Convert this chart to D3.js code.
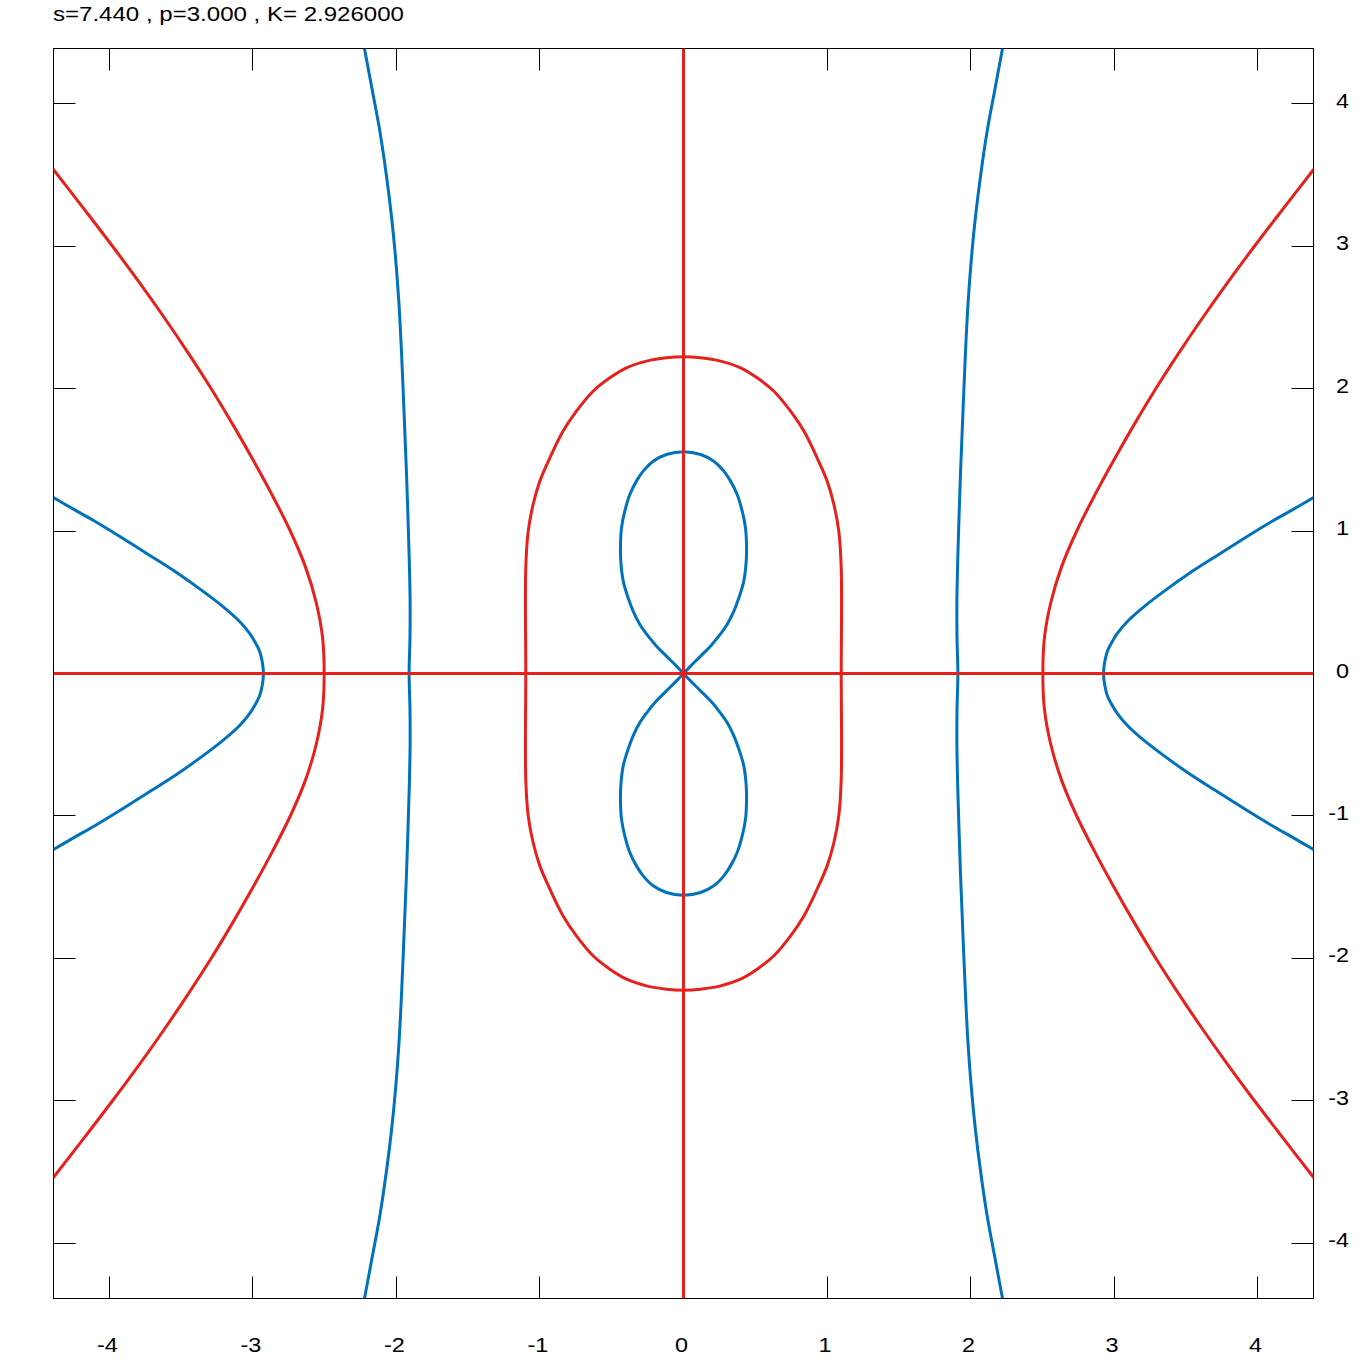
<!DOCTYPE html>
<html><head><meta charset="utf-8">
<script src="https://cdn.jsdelivr.net/npm/d3@7"></script>
<style>body{margin:0;background:#fff}svg{display:block}</style>
</head><body>
<svg id="chart" width="1366" height="1366"></svg>
<script>
const titleText = "s=7.440 , p=3.000 , K= 2.926000";
const xTicks = [-4, -3, -2, -1, 0, 1, 2, 3, 4];
const yTicks = [-4, -3, -2, -1, 0, 1, 2, 3, 4];
const xDomain = [-4.39, 4.39];
const yDomain = [-4.386, 4.386];

// ---- red level set ----
const redAxisX = [[-4.39, 0], [4.39, 0]];
const redAxisY = [[0, -4.386], [0, 4.386]];
const redOval = [[0,2.222],[0.119,2.215],[0.258,2.192],[0.397,2.145],[0.513,2.075],[0.630,1.981],[0.746,1.841],[0.839,1.701],[0.931,1.513],[1.001,1.350],[1.048,1.186],[1.082,0.999],[1.099,0.742],[1.099,0],[1.099,-0.742],[1.082,-0.999],[1.048,-1.186],[1.001,-1.350],[0.931,-1.513],[0.839,-1.701],[0.746,-1.841],[0.630,-1.981],[0.513,-2.075],[0.397,-2.145],[0.258,-2.192],[0.119,-2.215],[0,-2.222],[-0.119,-2.215],[-0.258,-2.192],[-0.397,-2.145],[-0.513,-2.075],[-0.630,-1.981],[-0.746,-1.841],[-0.839,-1.701],[-0.931,-1.513],[-1.001,-1.350],[-1.048,-1.186],[-1.082,-0.999],[-1.099,-0.742],[-1.099,0],[-1.099,0.742],[-1.082,0.999],[-1.048,1.186],[-1.001,1.350],[-0.931,1.513],[-0.839,1.701],[-0.746,1.841],[-0.630,1.981],[-0.513,2.075],[-0.397,2.145],[-0.258,2.192],[-0.119,2.215]];
const redLeft = [[-4.395,3.542],[-4.170,3.250],[-3.980,3.000],[-3.796,2.750],[-3.620,2.500],[-3.452,2.250],[-3.292,2.000],[-3.142,1.750],[-3.000,1.500],[-2.865,1.250],[-2.740,1.000],[-2.635,0.750],[-2.560,0.500],[-2.515,0.250],[-2.504,0],[-2.515,-0.250],[-2.560,-0.500],[-2.635,-0.750],[-2.740,-1.000],[-2.865,-1.250],[-3.000,-1.500],[-3.142,-1.750],[-3.292,-2.000],[-3.452,-2.250],[-3.620,-2.500],[-3.796,-2.750],[-3.980,-3.000],[-4.170,-3.250],[-4.395,-3.542]];
const redRight = [[4.395,3.542],[4.170,3.250],[3.980,3.000],[3.796,2.750],[3.620,2.500],[3.452,2.250],[3.292,2.000],[3.142,1.750],[3.000,1.500],[2.865,1.250],[2.740,1.000],[2.635,0.750],[2.560,0.500],[2.515,0.250],[2.504,0],[2.515,-0.250],[2.560,-0.500],[2.635,-0.750],[2.740,-1.000],[2.865,-1.250],[3.000,-1.500],[3.142,-1.750],[3.292,-2.000],[3.452,-2.250],[3.620,-2.500],[3.796,-2.750],[3.980,-3.000],[4.170,-3.250],[4.395,-3.542]];

// ---- blue level set ----
const blueEight = [[0,0],[0.049,0.052],[0.119,0.122],[0.188,0.192],[0.246,0.262],[0.304,0.344],[0.351,0.437],[0.386,0.531],[0.420,0.648],[0.437,0.788],[0.439,0.905],[0.432,1.022],[0.409,1.139],[0.374,1.256],[0.328,1.350],[0.281,1.420],[0.211,1.490],[0.119,1.537],[0,1.556],[-0.119,1.537],[-0.211,1.490],[-0.281,1.420],[-0.328,1.350],[-0.374,1.256],[-0.409,1.139],[-0.432,1.022],[-0.439,0.905],[-0.437,0.788],[-0.420,0.648],[-0.386,0.531],[-0.351,0.437],[-0.304,0.344],[-0.246,0.262],[-0.188,0.192],[-0.119,0.122],[-0.049,0.052],[0,0],[0.049,-0.052],[0.119,-0.122],[0.188,-0.192],[0.246,-0.262],[0.304,-0.344],[0.351,-0.437],[0.386,-0.531],[0.420,-0.648],[0.437,-0.788],[0.439,-0.905],[0.432,-1.022],[0.409,-1.139],[0.374,-1.256],[0.328,-1.350],[0.281,-1.420],[0.211,-1.490],[0.119,-1.537],[0,-1.556],[-0.119,-1.537],[-0.211,-1.490],[-0.281,-1.420],[-0.328,-1.350],[-0.374,-1.256],[-0.409,-1.139],[-0.432,-1.022],[-0.439,-0.905],[-0.437,-0.788],[-0.420,-0.648],[-0.386,-0.531],[-0.351,-0.437],[-0.304,-0.344],[-0.246,-0.262],[-0.188,-0.192],[-0.119,-0.122],[-0.049,-0.052],[0,0]];
const blueLeftWall = [[-2.223,4.386],[-2.170,4.100],[-2.115,3.800],[-2.071,3.500],[-2.034,3.200],[-2.005,2.900],[-1.983,2.600],[-1.967,2.300],[-1.954,2.000],[-1.942,1.700],[-1.930,1.400],[-1.920,1.100],[-1.911,0.800],[-1.905,0.500],[-1.906,0.250],[-1.912,0],[-1.906,-0.250],[-1.905,-0.500],[-1.911,-0.800],[-1.920,-1.100],[-1.930,-1.400],[-1.942,-1.700],[-1.954,-2.000],[-1.967,-2.300],[-1.983,-2.600],[-2.005,-2.900],[-2.034,-3.200],[-2.071,-3.500],[-2.115,-3.800],[-2.170,-4.100],[-2.223,-4.386]];
const blueRightWall = [[2.223,4.386],[2.170,4.100],[2.115,3.800],[2.071,3.500],[2.034,3.200],[2.005,2.900],[1.983,2.600],[1.967,2.300],[1.954,2.000],[1.942,1.700],[1.930,1.400],[1.920,1.100],[1.911,0.800],[1.905,0.500],[1.906,0.250],[1.912,0],[1.906,-0.250],[1.905,-0.500],[1.911,-0.800],[1.920,-1.100],[1.930,-1.400],[1.942,-1.700],[1.954,-2.000],[1.967,-2.300],[1.983,-2.600],[2.005,-2.900],[2.034,-3.200],[2.071,-3.500],[2.115,-3.800],[2.170,-4.100],[2.223,-4.386]];
const blueLeftArc = [[-4.390,1.235],[-4.245,1.150],[-4.105,1.070],[-3.925,0.960],[-3.705,0.820],[-3.520,0.700],[-3.352,0.580],[-3.222,0.480],[-3.098,0.370],[-3.022,0.280],[-2.985,0.220],[-2.955,0.160],[-2.935,0.080],[-2.927,0],[-2.935,-0.080],[-2.955,-0.160],[-2.985,-0.220],[-3.022,-0.280],[-3.098,-0.370],[-3.222,-0.480],[-3.352,-0.580],[-3.520,-0.700],[-3.705,-0.820],[-3.925,-0.960],[-4.105,-1.070],[-4.245,-1.150],[-4.390,-1.235]];
const blueRightArc = [[4.390,1.235],[4.245,1.150],[4.105,1.070],[3.925,0.960],[3.705,0.820],[3.520,0.700],[3.352,0.580],[3.222,0.480],[3.098,0.370],[3.022,0.280],[2.985,0.220],[2.955,0.160],[2.935,0.080],[2.927,0],[2.935,-0.080],[2.955,-0.160],[2.985,-0.220],[3.022,-0.280],[3.098,-0.370],[3.222,-0.480],[3.352,-0.580],[3.520,-0.700],[3.705,-0.820],[3.925,-0.960],[4.105,-1.070],[4.245,-1.150],[4.390,-1.235]];

const blueCurves = [blueLeftWall, blueRightWall, blueLeftArc, blueRightArc, blueEight];
const redCurves = [redLeft, redRight];
const redLines = [redAxisX, redAxisY];

const BLUE = "#0072bd", RED = "#e6211b";
const FONT = "'Liberation Sans', Arial, Helvetica, sans-serif";
const STRETCH = 1.17;

const svg = d3.select("#chart");
const L = 53.5, R = 1313.5, T = 48.5, B = 1298.5;
const x = d3.scaleLinear().domain(xDomain).range([L, R]);
const y = d3.scaleLinear().domain(yDomain).range([B, T]);

svg.append("defs").append("clipPath").attr("id", "plotclip")
  .append("rect").attr("x", L).attr("y", T).attr("width", R - L).attr("height", B - T);

// frame and ticks (drawn first, curves lie over them)
const ax = svg.append("g").attr("stroke", "#000").attr("stroke-width", 1).attr("fill", "none");
ax.append("rect").attr("x", L).attr("y", T).attr("width", R - L).attr("height", B - T);
const TL = 22;
const px = v => Math.round(x(v) - 0.5) + 0.5;
const py = v => Math.round(y(v) - 0.5) + 0.5;
xTicks.forEach(v => {
  ax.append("line").attr("x1", px(v)).attr("x2", px(v)).attr("y1", B).attr("y2", B - TL);
  ax.append("line").attr("x1", px(v)).attr("x2", px(v)).attr("y1", T).attr("y2", T + TL);
});
yTicks.forEach(v => {
  ax.append("line").attr("y1", py(v)).attr("y2", py(v)).attr("x1", L).attr("x2", L + TL);
  ax.append("line").attr("y1", py(v)).attr("y2", py(v)).attr("x1", R).attr("x2", R - TL);
});

const plot = svg.append("g").attr("clip-path", "url(#plotclip)");
const smooth = d3.line().x(d => x(d[0])).y(d => y(d[1])).curve(d3.curveCatmullRom.alpha(0.5));
const smoothClosed = d3.line().x(d => x(d[0])).y(d => y(d[1])).curve(d3.curveCatmullRomClosed.alpha(0.5));
const straight = d3.line().x(d => x(d[0])).y(d => y(d[1]));

plot.selectAll("path.blue").data(blueCurves).join("path")
  .attr("class", "blue").attr("d", smooth)
  .attr("fill", "none").attr("stroke", BLUE).attr("stroke-width", 3).attr("stroke-linejoin", "round");

plot.selectAll("path.redc").data(redCurves).join("path")
  .attr("class", "redc").attr("d", smooth)
  .attr("fill", "none").attr("stroke", RED).attr("stroke-width", 3).attr("stroke-linejoin", "round");
plot.append("path").datum(redOval).attr("d", smoothClosed)
  .attr("fill", "none").attr("stroke", RED).attr("stroke-width", 3);
plot.selectAll("path.redl").data(redLines).join("path")
  .attr("class", "redl").attr("d", straight)
  .attr("fill", "none").attr("stroke", RED).attr("stroke-width", 3);

function widen(sel, k) {
  sel.each(function () {
    const w = this.getComputedTextLength();
    d3.select(this).attr("textLength", w * k).attr("lengthAdjust", "spacingAndGlyphs");
  });
}

const labels = svg.append("g").attr("font-family", FONT).attr("font-size", 20).attr("fill", "#000");
const xl = labels.selectAll("text.xt").data(xTicks).join("text").attr("class", "xt")
  .attr("x", d => x(d) - 2).attr("y", 1352).attr("text-anchor", "middle").text(d => d);
const yl = labels.selectAll("text.yt").data(yTicks).join("text").attr("class", "yt")
  .attr("x", 1349).attr("y", d => y(d) + 4).attr("text-anchor", "end").text(d => d);
widen(xl, STRETCH);
widen(yl, STRETCH);

svg.append("text").attr("x", 53).attr("y", 20.5)
  .attr("font-family", FONT).attr("font-size", 20).attr("fill", "#000")
  .attr("textLength", 351).attr("lengthAdjust", "spacingAndGlyphs")
  .text(titleText);
</script>
</body></html>
